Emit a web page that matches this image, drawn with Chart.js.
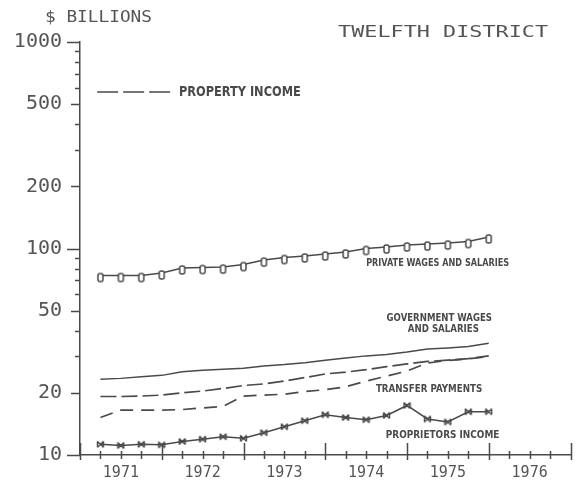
<!DOCTYPE html>
<html>
<head>
<meta charset="utf-8">
<script src="https://cdn.jsdelivr.net/npm/chart.js@4.4.1/dist/chart.umd.min.js"></script>
<style>
  html, body { margin: 0; padding: 0; background: #fff; overflow: hidden; }
  #wrap { width: 577px; height: 480px; }
</style>
</head>
<body>
<div id="wrap"><canvas id="chart"></canvas></div>
<script>
// quarterly observations, plotted at the end of each quarter
const QUARTERS = [1971.25, 1971.5, 1971.75, 1972.0, 1972.25, 1972.5, 1972.75, 1973.0,
  1973.25, 1973.5, 1973.75, 1974.0, 1974.25, 1974.5, 1974.75, 1975.0,
  1975.25, 1975.5, 1975.75, 1976.0];

// $ billions
const PRIVATE_WAGES = [74.0, 74.0, 74.0, 76.1, 80.5, 80.9, 81.3, 83.6, 87.9, 90.4,
  92.0, 94.0, 96.2, 100.0, 101.7, 104.0, 105.1, 106.3, 108.1, 113.7];
const GOVERNMENT_WAGES = [23.3, 23.5, 23.9, 24.3, 25.3, 25.7, 26.0, 26.3, 27.0, 27.4,
  28.0, 28.8, 29.5, 30.2, 30.7, 31.5, 32.6, 33.0, 33.5, 34.8];
const PROPERTY_INCOME = [19.2, 19.2, 19.3, 19.5, 20.0, 20.4, 21.0, 21.7, 22.1, 22.8,
  23.7, 24.7, 25.2, 25.9, 26.8, 27.6, 28.4, 28.8, 29.3, 30.2];
const TRANSFER_PAYMENTS = [15.2, 16.5, 16.5, 16.5, 16.6, 16.9, 17.2, 19.3, 19.5, 19.7,
  20.3, 20.7, 21.4, 22.8, 24.1, 25.5, 27.9, 28.7, 29.2, 30.0];
const PROPRIETORS_INCOME = [11.27, 11.12, 11.27, 11.20, 11.63, 11.93, 12.26, 12.05, 12.82, 13.71,
  14.66, 15.67, 15.19, 14.82, 15.54, 17.37, 14.94, 14.45, 16.20, 16.20];

// axes
const Y_LABELS = [10, 20, 50, 100, 200, 500, 1000];
const Y_TICKS = [10, 20, 30, 40, 50, 60, 70, 80, 90, 100, 200, 300, 400, 500, 600, 700, 800, 900, 1000];
const YEARS = [1971, 1972, 1973, 1974, 1975, 1976];
const YEAR_MARKS = [1971, 1972, 1973, 1974, 1975, 1976, 1977];
const QUARTER_MARKS = [1971.25, 1971.5, 1971.75, 1972.25, 1972.5, 1972.75, 1973.25, 1973.5, 1973.75,
  1974.25, 1974.5, 1974.75, 1975.25, 1975.5, 1975.75, 1976.25, 1976.5, 1976.75];

const INK = '#4a4a4a';
const TEXT = '#555';
const MONO = '"DejaVu Sans Mono", "Liberation Mono", monospace';

// little plotter-style markers
function squareO() {
  const c = document.createElement('canvas');
  c.width = 9; c.height = 22;
  const g = c.getContext('2d');
  g.fillStyle = '#fff';
  g.strokeStyle = INK;
  g.lineWidth = 1.5;
  g.beginPath();
  g.roundRect(2, 9, 5, 8, 2);
  g.fill();
  g.stroke();
  return c;
}

function bowTie() {
  const c = document.createElement('canvas');
  c.width = 9; c.height = 9;
  const g = c.getContext('2d');
  g.strokeStyle = INK;
  g.lineWidth = 1.4;
  g.beginPath();
  g.moveTo(1.5, 1.5); g.lineTo(7.5, 7.5);
  g.moveTo(7.5, 1.5); g.lineTo(1.5, 7.5);
  g.moveTo(1.5, 1.5); g.lineTo(1.5, 7.5);
  g.moveTo(7.5, 1.5); g.lineTo(7.5, 7.5);
  g.stroke();
  return c;
}

function toPoints(values) {
  return values.map((v, i) => ({ x: QUARTERS[i], y: v }));
}

// text that sits inside the plot, anchored in data units (left year, right year, value)
const NOTES = [
  { text: 'PROPERTY INCOME', from: 1972.21, to: 1973.70, at: 573, size: 14 },
  { text: 'PRIVATE WAGES AND SALARIES', from: 1974.50, to: 1976.25, at: 85.1, size: 11 },
  { text: 'GOVERNMENT WAGES', from: 1974.75, to: 1976.04, at: 46.1, size: 11 },
  { text: 'AND SALARIES', from: 1975.01, to: 1975.88, at: 40.8, size: 11 },
  { text: 'TRANSFER PAYMENTS', from: 1974.62, to: 1975.92, at: 20.9, size: 11 },
  { text: 'PROPRIETORS INCOME', from: 1974.74, to: 1976.13, at: 12.5, size: 11 }
];

function fitText(ctx, text, left, right, cy, font) {
  ctx.save();
  ctx.font = font;
  ctx.textBaseline = 'middle';
  ctx.textAlign = 'left';
  const w = ctx.measureText(text).width;
  ctx.translate(left, cy);
  ctx.scale((right - left) / w, 1);
  ctx.fillText(text, 0, 0);
  ctx.restore();
}

const decorations = {
  id: 'decorations',
  afterDraw(chart) {
    const { ctx } = chart;
    const x = chart.scales.x;
    const y = chart.scales.y;
    const axisX = x.left;
    const axisY = y.bottom;

    ctx.save();
    ctx.strokeStyle = INK;
    ctx.lineWidth = 1.5;
    ctx.beginPath();
    Y_TICKS.forEach(v => {
      const py = Math.round(y.getPixelForValue(v)) + 0.5;
      const decade = v === 10 || v === 100 || v === 1000;
      const len = decade ? 13 : (Y_LABELS.includes(v) ? 9 : 5);
      ctx.moveTo(axisX - len, py);
      ctx.lineTo(axisX, py);
    });
    YEAR_MARKS.forEach(v => {
      const px = Math.round(x.getPixelForValue(v)) + 0.5;
      ctx.moveTo(px, axisY - 12);
      ctx.lineTo(px, axisY + 5);
    });
    QUARTER_MARKS.forEach(v => {
      const px = Math.round(x.getPixelForValue(v)) + 0.5;
      ctx.moveTo(px, axisY - 4);
      ctx.lineTo(px, axisY + 4);
    });
    ctx.stroke();

    // legend sample for the property income line
    const ly = y.getPixelForValue(573);
    ctx.setLineDash([21, 5]);
    ctx.lineWidth = 1.4;
    ctx.beginPath();
    ctx.moveTo(x.getPixelForValue(1971.21), ly);
    ctx.lineTo(x.getPixelForValue(1972.13), ly);
    ctx.stroke();
    ctx.setLineDash([]);

    ctx.fillStyle = INK;
    NOTES.forEach(n => {
      fitText(ctx, n.text, x.getPixelForValue(n.from), x.getPixelForValue(n.to),
        y.getPixelForValue(n.at), `bold ${n.size}px "DejaVu Sans Condensed", "Liberation Sans Narrow", "DejaVu Sans", sans-serif`);
    });

    ctx.fillStyle = TEXT;
    fitText(ctx, '$ BILLIONS', 45, 152, 18, `15px ${MONO}`);
    fitText(ctx, 'TWELFTH DISTRICT', 338, 548, 33, `16px ${MONO}`);
    ctx.restore();
  }
};

const lineStyle = {
  borderColor: INK,
  backgroundColor: INK,
  borderWidth: 1.5,
  tension: 0,
  fill: false,
  pointRadius: 0
};

new Chart(document.getElementById('chart'), {
  type: 'line',
  data: {
    datasets: [
      { ...lineStyle, label: 'Private wages and salaries', data: toPoints(PRIVATE_WAGES),
        pointStyle: squareO(), pointRadius: 5 },
      { ...lineStyle, label: 'Government wages and salaries', data: toPoints(GOVERNMENT_WAGES) },
      { ...lineStyle, label: 'Property income', data: toPoints(PROPERTY_INCOME), borderDash: [16, 5], borderWidth: 1.7 },
      { ...lineStyle, label: 'Transfer payments', data: toPoints(TRANSFER_PAYMENTS), borderDash: [13, 8], borderWidth: 1.7 },
      { ...lineStyle, label: 'Proprietors income', data: toPoints(PROPRIETORS_INCOME),
        pointStyle: bowTie(), pointRadius: 4 }
    ]
  },
  options: {
    responsive: true,
    maintainAspectRatio: false,
    animation: false,
    layout: { padding: { top: 42, right: 3, bottom: 0, left: 0 } },
    plugins: {
      legend: { display: false },
      tooltip: { enabled: false }
    },
    scales: {
      x: {
        type: 'linear',
        min: 1971,
        max: 1977,
        afterBuildTicks: s => { s.ticks = YEARS.map(v => ({ value: v + 0.5 })); },
        afterFit: s => { s.height = 25; },
        grid: { display: false, drawTicks: false },
        border: { color: INK, width: 1.5 },
        ticks: {
          color: TEXT,
          font: { family: MONO, size: 15 },
          padding: 9,
          maxRotation: 0,
          autoSkip: false,
          callback: v => String(Math.floor(v))
        }
      },
      y: {
        type: 'logarithmic',
        min: 10,
        max: 1000,
        afterBuildTicks: s => { s.ticks = Y_LABELS.map(v => ({ value: v })); },
        afterFit: s => { s.width = 80; s.paddingTop = 0; s.paddingBottom = 0; },
        grid: { display: false, drawTicks: false },
        border: { color: INK, width: 1.5 },
        ticks: {
          color: TEXT,
          font: { family: MONO, size: 20 },
          padding: 18,
          autoSkip: false,
          callback: v => String(v)
        }
      }
    }
  },
  plugins: [decorations]
});
</script>
</body>
</html>
